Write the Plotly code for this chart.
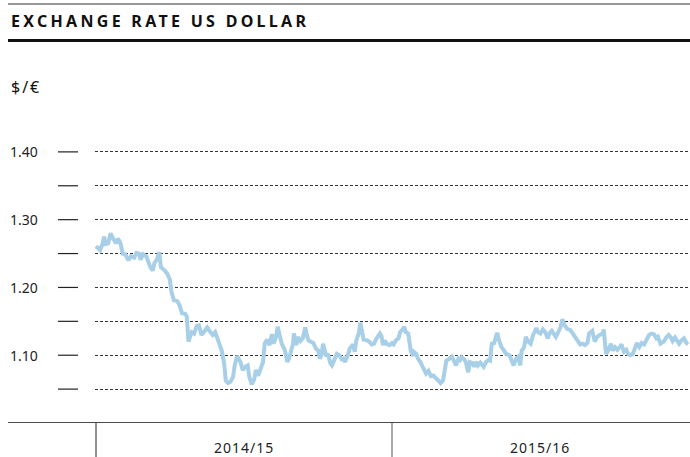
import pandas as pd
import plotly.graph_objects as go

title = "EXCHANGE RATE US DOLLAR"
unit = "$/€"
start_date = "2014-10-01"
periods = ["2014/15", "2015/16"]
period_starts = ["2014-10-01", "2015-10-01"]
period_mids = ["2015-04-01", "2016-04-01"]
tick_values = [1.05, 1.10, 1.15, 1.20, 1.25, 1.30, 1.35, 1.40]
label_values = [1.10, 1.20, 1.30, 1.40]

day_offsets = [
    0, 5, 8, 10, 12, 15, 18, 21, 25, 27, 30, 33, 36, 40, 43, 47, 50, 53, 55, 58,
    62, 64, 67, 70, 72, 75, 78, 80, 84, 88, 91, 93, 96, 100, 103, 106, 110, 112, 114,
    116, 118, 121, 124, 127, 130, 133, 137, 141, 144, 147, 151, 155, 158, 160, 163,
    166, 169, 171, 174, 178, 181, 184, 187, 189, 192, 195, 197, 200, 203, 206, 208,
    211, 214, 217, 219, 222, 224, 226, 229, 233, 236, 238,
    243, 244, 247, 249, 252, 255, 258, 260, 262, 265, 268, 271, 274, 276, 278, 280,
    282, 284, 286, 289, 291, 293, 297, 300, 303, 305, 307, 310, 313, 317, 319, 321,
    324, 326, 328, 330, 334, 337, 340, 343, 345, 348, 350, 352, 354, 356, 358, 362,
    365, 367, 370, 373, 375, 378, 380, 382, 385, 388, 391, 392, 395, 397, 400, 404,
    407, 410, 413, 416, 419, 422, 425, 428, 430, 432, 436, 439, 441, 444, 447, 449,
    451, 454, 456, 459, 461, 465, 466, 469, 471, 474, 478, 481, 484,
    486, 488, 491, 493, 495, 497, 500, 503, 506, 510, 513, 515, 518, 521, 523, 525,
    528, 530, 533, 536, 539, 543, 545, 548, 551, 554, 557, 559, 562, 564, 567, 570,
    573, 575, 578, 581, 585, 588, 591, 594, 597, 600, 603, 606, 608,
    612, 615, 618, 621, 625, 626, 629, 632, 635, 637, 640, 643, 646, 648, 651, 654,
    656, 659, 662, 665, 667, 670, 673, 676, 679, 682, 685, 688, 691, 693, 696, 700,
    703, 706, 709, 711, 714, 717, 719, 722, 725, 728, 730,
]

usd_per_eur = [
    1.261, 1.255, 1.264, 1.275, 1.264, 1.265, 1.280, 1.272, 1.265, 1.272, 1.266, 1.250,
    1.249, 1.240, 1.246, 1.244, 1.251, 1.250, 1.241, 1.249, 1.246, 1.238, 1.230, 1.225,
    1.236, 1.241, 1.252, 1.230, 1.226, 1.220, 1.212, 1.194, 1.181, 1.180, 1.174, 1.162,
    1.161, 1.157, 1.120,
    1.127, 1.134, 1.132, 1.143, 1.144, 1.130, 1.134, 1.141, 1.134, 1.130, 1.134, 1.122,
    1.107, 1.088, 1.063, 1.059, 1.061, 1.068, 1.085, 1.099, 1.090, 1.078, 1.083, 1.085,
    1.068, 1.057, 1.064, 1.078, 1.070, 1.080, 1.090, 1.117, 1.123, 1.115, 1.131, 1.117,
    1.127, 1.142, 1.132, 1.117, 1.107, 1.090, 1.095,
    1.117, 1.132, 1.115, 1.127, 1.121, 1.125, 1.141, 1.130, 1.122, 1.120, 1.118, 1.110,
    1.107, 1.095, 1.100, 1.117, 1.105, 1.098, 1.102, 1.088, 1.085, 1.090, 1.102, 1.100,
    1.094, 1.095, 1.090, 1.098, 1.110, 1.116, 1.105, 1.122, 1.132, 1.148, 1.132, 1.123,
    1.122, 1.120, 1.116, 1.117, 1.123, 1.128, 1.132, 1.128, 1.115, 1.122, 1.117, 1.115,
    1.118, 1.116, 1.122, 1.125, 1.134, 1.138, 1.142, 1.134, 1.132, 1.107, 1.099, 1.105,
    1.102, 1.095, 1.090, 1.080, 1.073, 1.077, 1.069, 1.070, 1.066, 1.062, 1.059, 1.063,
    1.083, 1.092, 1.095, 1.098, 1.093, 1.085, 1.095, 1.093, 1.097, 1.094, 1.090, 1.075,
    1.090, 1.088, 1.083, 1.090, 1.085, 1.089, 1.083, 1.090, 1.093,
    1.092, 1.117, 1.118, 1.127, 1.133, 1.122, 1.112, 1.107, 1.102, 1.100, 1.092, 1.085,
    1.095, 1.098, 1.085, 1.107, 1.112, 1.127, 1.120, 1.117, 1.130, 1.140, 1.134, 1.132,
    1.138, 1.134, 1.125, 1.132, 1.136, 1.132, 1.127, 1.134, 1.142, 1.153, 1.144, 1.139,
    1.137, 1.132, 1.126, 1.120, 1.116, 1.117, 1.115, 1.118, 1.132,
    1.136, 1.120, 1.127, 1.130, 1.132, 1.138, 1.102, 1.108, 1.117, 1.107, 1.112, 1.108,
    1.112, 1.116, 1.105, 1.108, 1.102, 1.100, 1.102, 1.112, 1.118, 1.112, 1.118, 1.116,
    1.123, 1.130, 1.132, 1.131, 1.125, 1.127, 1.117, 1.120, 1.126, 1.130, 1.126, 1.121,
    1.126, 1.120, 1.117, 1.122, 1.125, 1.118, 1.116,
]

start = pd.Timestamp(start_date)
dates = [start + pd.Timedelta(days=d) for d in day_offsets]

W, H = 690, 457
L, R, T, B = 95, 0, 118, 34
pw, ph = W - L - R, H - T - B


def px_x(px):
    return (px - L) / pw


def px_y(py):
    return (H - B - py) / ph


x_lo = start - pd.Timedelta(days=1.233)
x_hi = start + pd.Timedelta(days=732.47)

fig = go.Figure()
fig.add_trace(go.Scatter(
    x=dates, y=usd_per_eur, mode="lines",
    line=dict(color="#a8cfe8", width=4),
    hoverinfo="skip", showlegend=False,
))

font_fam = "Noto Sans, Open Sans, sans-serif"

shapes = []
# top thin rule and thick rule under title
shapes.append(dict(type="line", xref="paper", yref="paper", x0=px_x(8), x1=1,
                   y0=px_y(4), y1=px_y(4), line=dict(color="#333333", width=1.2)))
shapes.append(dict(type="line", xref="paper", yref="paper", x0=px_x(8), x1=1,
                   y0=px_y(40.5), y1=px_y(40.5), line=dict(color="#111111", width=3)))
# baseline
shapes.append(dict(type="line", xref="paper", yref="y", x0=px_x(8), x1=1,
                   y0=1.0, y1=1.0, line=dict(color="#111111", width=1.5)))
# left tick marks
for v in tick_values:
    shapes.append(dict(type="line", xref="paper", yref="y", x0=px_x(58), x1=px_x(78),
                       y0=v, y1=v, line=dict(color="#222222", width=1.2)))
# period separators
for i, d in enumerate(period_starts):
    shapes.append(dict(type="line", xref="x", yref="paper", x0=d, x1=d,
                       y0=0, y1=px_y(457), line=dict(color="#222222" if i == 0 else "#555555", width=1)))

annotations = []
annotations.append(dict(
    text=f'<b><span style="letter-spacing:3.3px">{title}</span></b>',
    xref="paper", yref="paper", x=px_x(9), y=px_y(21), xanchor="left", yanchor="middle",
    showarrow=False, font=dict(family=font_fam, size=16, color="#111111")))
annotations.append(dict(
    text=f'<span style="letter-spacing:2px">{unit}</span>',
    xref="paper", yref="paper", x=px_x(9), y=px_y(87), xanchor="left", yanchor="middle",
    showarrow=False, font=dict(family=font_fam, size=16, color="#111111")))
for v in label_values:
    annotations.append(dict(
        text=f"{v:.2f}", xref="paper", yref="y", x=px_x(8), y=v,
        xanchor="left", yanchor="middle", showarrow=False,
        font=dict(family=font_fam, size=14, color="#222222")))
for name, mid in zip(periods, period_mids):
    annotations.append(dict(
        text=f'<span style="letter-spacing:1px">{name}</span>',
        xref="x", yref="paper", x=mid, y=px_y(447),
        xanchor="center", yanchor="middle", showarrow=False,
        font=dict(family=font_fam, size=14, color="#222222")))

fig.update_layout(
    width=W, height=H,
    margin=dict(l=L, r=R, t=T, b=B, pad=0),
    paper_bgcolor="white", plot_bgcolor="white",
    xaxis=dict(range=[x_lo, x_hi], showgrid=False, showticklabels=False, ticks="",
               zeroline=False, showline=False),
    yaxis=dict(range=[1.0, 1.45], tickvals=tick_values, showticklabels=False, ticks="",
               showgrid=True, gridcolor="#333333", gridwidth=1, griddash="3px,2px",
               zeroline=False, showline=False),
    shapes=shapes, annotations=annotations,
    font=dict(family=font_fam),
)

fig.write_html(
    "out.html",
    config={"displayModeBar": False},
    post_script="document.body.style.margin='0';document.body.style.padding='0';",
)
